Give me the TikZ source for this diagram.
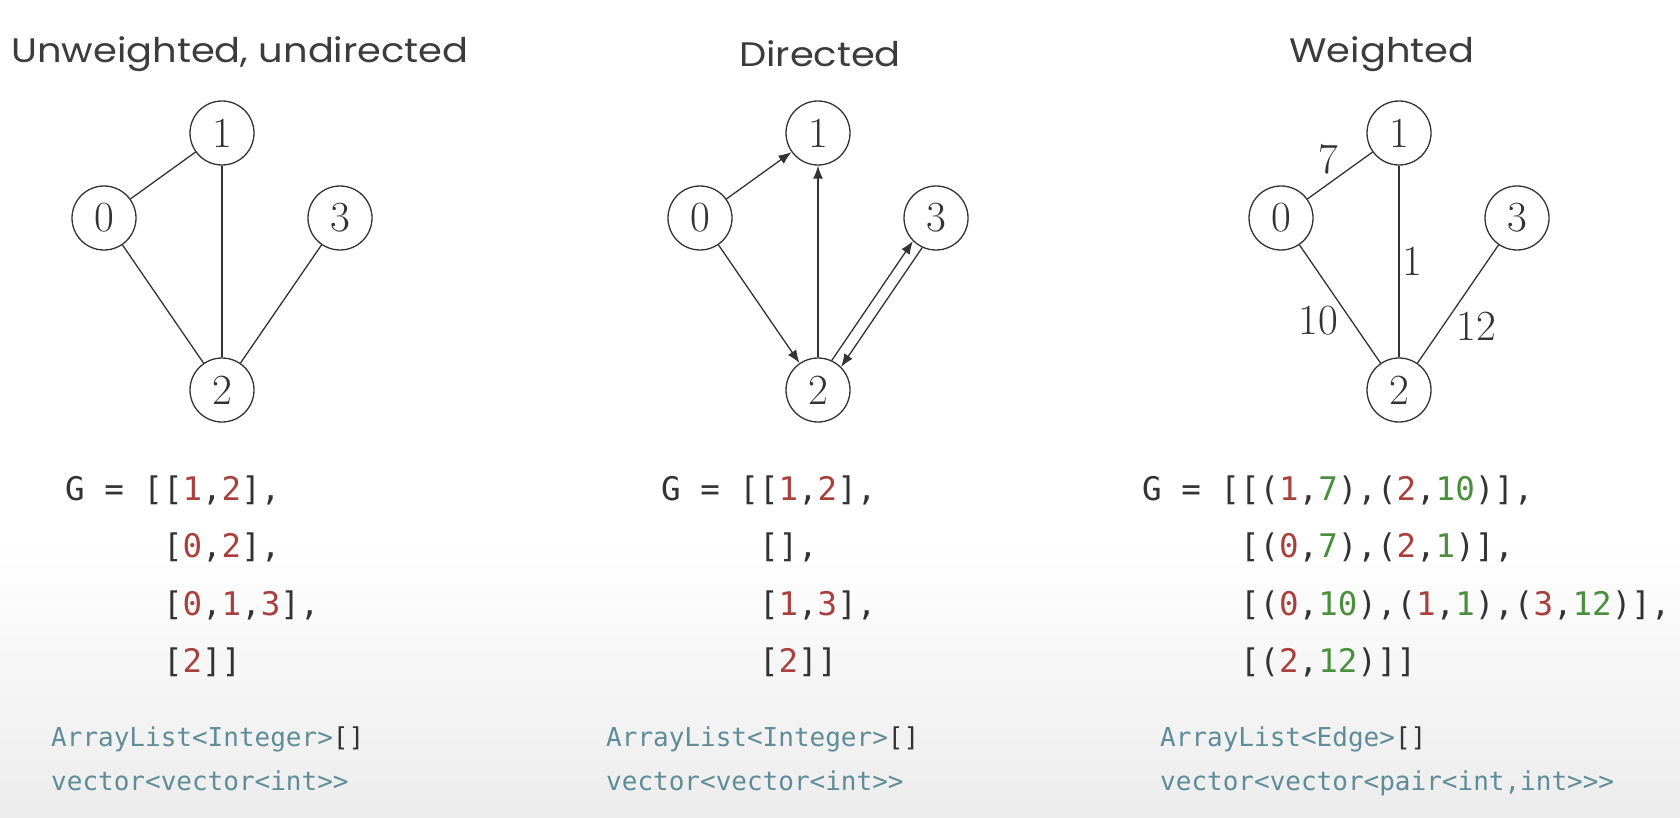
\documentclass[tikz,border=0pt]{standalone}
\usepackage{fontspec}
\setsansfont{Poppins}
\setmonofont{DejaVu Sans Mono}
\usepackage{tikz}
\usetikzlibrary{arrows.meta}

\definecolor{inkgray}{HTML}{333333}
\definecolor{titlegray}{HTML}{3C3C3C}
\definecolor{numred}{HTML}{A8403E}
\definecolor{wtgreen}{HTML}{4A8F3C}
\definecolor{typeteal}{HTML}{5E8C98}
\definecolor{bgbot}{HTML}{ECECEC}

\newcommand{\vnum}[1]{\textcolor{numred}{#1}}
\newcommand{\wnum}[1]{\textcolor{wtgreen}{#1}}

\tikzset{
  vertex/.style={draw=inkgray, circle, line width=1.3pt, minimum size=64pt, inner sep=0pt,
    font=\fontsize{43}{43}\selectfont, text=inkgray},
  edgeline/.style={draw=inkgray, line width=1.3pt},
  arc/.style={edgeline, -{Latex[length=13pt,width=10pt]}},
  wlabel/.style={font=\fontsize{43}{43}\selectfont, text=inkgray, inner sep=1pt},
  title/.style={font=\sffamily\fontsize{34}{34}\selectfont, text=titlegray, xscale=1.13},
  code/.style={font=\ttfamily\fontsize{32.5}{32.5}\selectfont, text=inkgray, anchor=base west, inner sep=0pt},
  typeline/.style={font=\ttfamily\fontsize{26}{26}\selectfont, text=typeteal, anchor=base west, inner sep=0pt},
}

\begin{document}
\begin{tikzpicture}[x=1pt, y=-1pt]
            \useasboundingbox (0,0) rectangle (1680,818);
            \fill[white] (0,0) rectangle (1680,818);
            \shade[top color=white, bottom color=bgbot] (0,540) rectangle (1680,818);

            % titles
            \node[title] (tU) at (240,54) {Unweighted, undirected};
            \node[title] (tD) at (820,54) {Directed};
            \node[title] (tW) at (1382,54) {Weighted};

            % unweighted, undirected
            \node[vertex] (u0) at (104,218) {0};
            \node[vertex] (u1) at (222,133) {1};
            \node[vertex] (u2) at (222,390) {2};
            \node[vertex] (u3) at (340,218) {3};
            \draw[edgeline] (u0) -- (u1);
            \draw[edgeline] (u0) -- (u2);
            \draw[edgeline] (u1) -- (u2);
            \draw[edgeline] (u3) -- (u2);

            % directed
            \node[vertex] (d0) at (700,218) {0};
            \node[vertex] (d1) at (818,133) {1};
            \node[vertex] (d2) at (818,390) {2};
            \node[vertex] (d3) at (936,218) {3};
            \draw[arc] (d0) -- (d1);
            \draw[arc] (d0) -- (d2);
            \draw[arc] (d2) -- (d1);
            \draw[arc] (d2.65) -- (d3.225);
            \draw[arc] (d3.245) -- (d2.45);

            % weighted
            \node[vertex] (w0) at (1281,218) {0};
            \node[vertex] (w1) at (1399,133) {1};
            \node[vertex] (w2) at (1399,390) {2};
            \node[vertex] (w3) at (1517,218) {3};
            \draw[edgeline] (w0) -- (w1) node[wlabel, midway, anchor=south east] {7};
            \draw[edgeline] (w1) -- (w2) node[wlabel, midway, anchor=west, inner sep=3pt] {1};
            \draw[edgeline] (w0) -- (w2) node[wlabel, midway, anchor=north east] {10};
            \draw[edgeline] (w2) -- (w3) node[wlabel, pos=0.45, anchor=north west, inner sep=2pt] {12};

            % adjacency lists
            \node[code] (uG1) at (65,500) {G = [[\vnum{1},\vnum{2}],};
            \node[code] (uG2) at (65,557.5) {\phantom{G = [}[\vnum{0},\vnum{2}],};
            \node[code] (uG3) at (65,615) {\phantom{G = [}[\vnum{0},\vnum{1},\vnum{3}],};
            \node[code] (uG4) at (65,672.5) {\phantom{G = [}[\vnum{2}]]};
            \node[typeline] (uT1) at (51,746) {ArrayList<Integer>\textcolor{inkgray}{[]}};
            \node[typeline] (uT2) at (51,790) {vector<vector<int>>};

            \node[code] (dG1) at (661,500) {G = [[\vnum{1},\vnum{2}],};
            \node[code] (dG2) at (661,557.5) {\phantom{G = [}[],};
            \node[code] (dG3) at (661,615) {\phantom{G = [}[\vnum{1},\vnum{3}],};
            \node[code] (dG4) at (661,672.5) {\phantom{G = [}[\vnum{2}]]};
            \node[typeline] (dT1) at (606,746) {ArrayList<Integer>\textcolor{inkgray}{[]}};
            \node[typeline] (dT2) at (606,790) {vector<vector<int>>};

            \node[code] (wG1) at (1142,500) {G = [[(\vnum{1},\wnum{7}),(\vnum{2},\wnum{10})],};
            \node[code] (wG2) at (1142,557.5) {\phantom{G = [}[(\vnum{0},\wnum{7}),(\vnum{2},\wnum{1})],};
            \node[code] (wG3) at (1142,615) {\phantom{G = [}[(\vnum{0},\wnum{10}),(\vnum{1},\wnum{1}),(\vnum{3},\wnum{12})],};
            \node[code] (wG4) at (1142,672.5) {\phantom{G = [}[(\vnum{2},\wnum{12})]]};
            \node[typeline] (wT1) at (1160,746) {ArrayList<Edge>\textcolor{inkgray}{[]}};
            \node[typeline] (wT2) at (1160,790) {vector<vector<pair<int,int>>>};
\end{tikzpicture}
\end{document}
